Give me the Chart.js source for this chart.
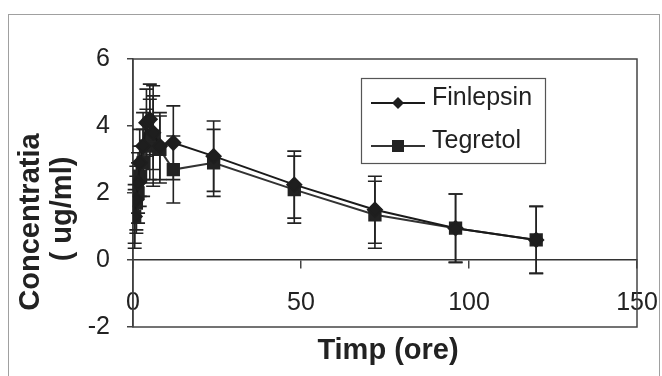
<!DOCTYPE html>
<html>
<head>
<meta charset="utf-8">
<script src="https://cdn.jsdelivr.net/npm/chart.js@4.4.1/dist/chart.umd.min.js"></script>
<style>
html,body{margin:0;padding:0;background:#fff;}
</style>
</head>
<body>
<canvas id="conc" width="662" height="376"></canvas>
<script>
// timp (ore) si concentratii medii (ug/ml) cu abaterile lor
const timp = [0.5, 1, 1.5, 2, 3, 4, 5, 6, 8, 12, 24, 48, 72, 96, 120];
const finlepsin = [1.3, 1.8, 2.3, 2.9, 3.4, 4.1, 4.2, 3.8, 3.4, 3.5, 3.1, 2.25, 1.5, 0.95, 0.6];
const sdFinlepsin = [0.95, 1.0, 0.9, 1.0, 1.0, 1.0, 1.05, 1.1, 1.0, 1.1, 1.05, 1.0, 1.0, 1.02, 1.0];
const tegretol = [1.3, 1.7, 2.0, 2.5, 2.9, 3.4, 3.6, 3.7, 3.3, 2.7, 2.9, 2.1, 1.35, 0.95, 0.6];
const sdTegretol = [0.8, 0.8, 0.9, 0.9, 1.0, 1.1, 1.2, 1.5, 1.0, 1.0, 1.0, 1.0, 1.0, 1.02, 1.0];
const xTicks = [0, 50, 100, 150];
const yTicks = [-2, 0, 2, 4, 6];

const font = '"Liberation Sans", Arial, sans-serif';

const cadru = {
    id: 'cadru',
    beforeDraw(chart) {
        const ctx = chart.ctx;
        ctx.save();
        ctx.fillStyle = '#fff';
        ctx.fillRect(0, 0, chart.width, chart.height);
        ctx.strokeStyle = '#a0a0a0';
        ctx.lineWidth = 1;
        ctx.strokeRect(8.5, 14.5, 651, 420);
        ctx.restore();
    },
    beforeDatasetsDraw(chart) {
        const ctx = chart.ctx;
        const a = chart.chartArea;
        const xs = chart.scales.x, ys = chart.scales.y;
        ctx.save();
        ctx.strokeStyle = '#444';
        ctx.lineWidth = 1.5;
        ctx.strokeRect(a.left, a.top, a.right - a.left, a.bottom - a.top);
        // bare de eroare
        ctx.strokeStyle = '#222';
        ctx.lineWidth = 1.6;
        chart.data.datasets.forEach(ds => {
            ds.data.forEach((p, j) => {
                const x = xs.getPixelForValue(p.x);
                const top = ys.getPixelForValue(p.y + ds.abatere[j]);
                const bot = ys.getPixelForValue(p.y - ds.abatere[j]);
                ctx.beginPath();
                ctx.moveTo(x, top); ctx.lineTo(x, bot);
                ctx.moveTo(x - 7, top); ctx.lineTo(x + 7, top);
                ctx.moveTo(x - 7, bot); ctx.lineTo(x + 7, bot);
                ctx.stroke();
            });
        });
        ctx.restore();
    },
    afterDraw(chart) {
        const ctx = chart.ctx;
        ctx.save();
        // legenda
        ctx.fillStyle = '#fff';
        ctx.fillRect(361, 78, 185, 85);
        ctx.strokeStyle = '#555';
        ctx.lineWidth = 1.2;
        ctx.strokeRect(361.5, 78.5, 184, 85);
        const rows = [103, 146];
        chart.data.datasets.forEach((ds, i) => {
            const y = rows[i];
            ctx.strokeStyle = ds.borderColor;
            ctx.lineWidth = 2;
            ctx.beginPath();
            ctx.moveTo(371, y); ctx.lineTo(425, y);
            ctx.stroke();
            ctx.fillStyle = ds.pointBackgroundColor;
            ctx.beginPath();
            if (ds.pointStyle === 'rectRot') {
                ctx.moveTo(398, y - 6); ctx.lineTo(404, y); ctx.lineTo(398, y + 6); ctx.lineTo(392, y);
            } else {
                ctx.rect(392, y - 6, 12, 12);
            }
            ctx.fill();
            ctx.fillStyle = '#222';
            ctx.font = '25px ' + font;
            ctx.textBaseline = 'alphabetic';
            ctx.textAlign = 'left';
            ctx.fillText(ds.label, 432, y + 2);
        });
        // titluri axe
        ctx.fillStyle = '#222';
        ctx.font = 'bold 29px ' + font;
        ctx.textAlign = 'center';
        ctx.textBaseline = 'middle';
        ctx.fillText('Timp (ore)', 388, 351);
        ctx.translate(31, 222);
        ctx.rotate(-Math.PI / 2);
        ctx.fillText('Concentratia', 0, 0);
        ctx.restore();
        ctx.save();
        ctx.fillStyle = '#222';
        ctx.font = 'bold 29px ' + font;
        ctx.textAlign = 'center';
        ctx.textBaseline = 'middle';
        ctx.translate(63, 209);
        ctx.rotate(-Math.PI / 2);
        ctx.fillText('( ug/ml)', 0, 0);
        ctx.restore();
    }
};

let grafic = new Chart(document.getElementById('conc').getContext('2d'), {
    type: 'line',
    data: {
        datasets: [{
            label: 'Finlepsin',
            data: timp.map((t, i) => ({x: t, y: finlepsin[i]})),
            abatere: sdFinlepsin,
            borderColor: '#1a1a1a',
            borderWidth: 2,
            pointStyle: 'rectRot',
            pointRadius: 7,
            pointBackgroundColor: '#1e1e1e',
            pointBorderColor: '#1e1e1e',
            tension: 0
        }, {
            label: 'Tegretol',
            data: timp.map((t, i) => ({x: t, y: tegretol[i]})),
            abatere: sdTegretol,
            borderColor: '#333',
            borderWidth: 2,
            pointStyle: 'rect',
            pointRadius: 8,
            pointBackgroundColor: '#222',
            pointBorderColor: '#222',
            tension: 0
        }]
    },
    options: {
        responsive: false,
        animation: false,
        layout: {padding: {top: 59, right: 25, bottom: 49, left: 0}},
        plugins: {legend: {display: false}, tooltip: {enabled: false}},
        scales: {
            x: {
                type: 'linear',
                min: 0,
                max: 150,
                position: {y: 0},
                afterBuildTicks: s => { s.ticks = xTicks.map(v => ({value: v})); },
                afterFit: s => { s.paddingLeft = 0; s.paddingRight = 0; },
                ticks: {font: {family: font, size: 25}, color: '#222', padding: 20, maxRotation: 0},
                grid: {drawOnChartArea: false, tickLength: 8, color: '#444', lineWidth: 1.5},
                border: {display: true, color: '#333', width: 1.5}
            },
            y: {
                min: -2,
                max: 6,
                afterBuildTicks: s => { s.ticks = yTicks.map(v => ({value: v})); },
                afterFit: s => { s.width = 133; },
                ticks: {font: {family: font, size: 25}, color: '#222', padding: 17},
                grid: {drawOnChartArea: false, tickLength: 6, color: '#444', lineWidth: 1.5},
                border: {display: true, color: '#333', width: 1.5}
            }
        }
    },
    plugins: [cadru]
});
</script>
</body>
</html>
